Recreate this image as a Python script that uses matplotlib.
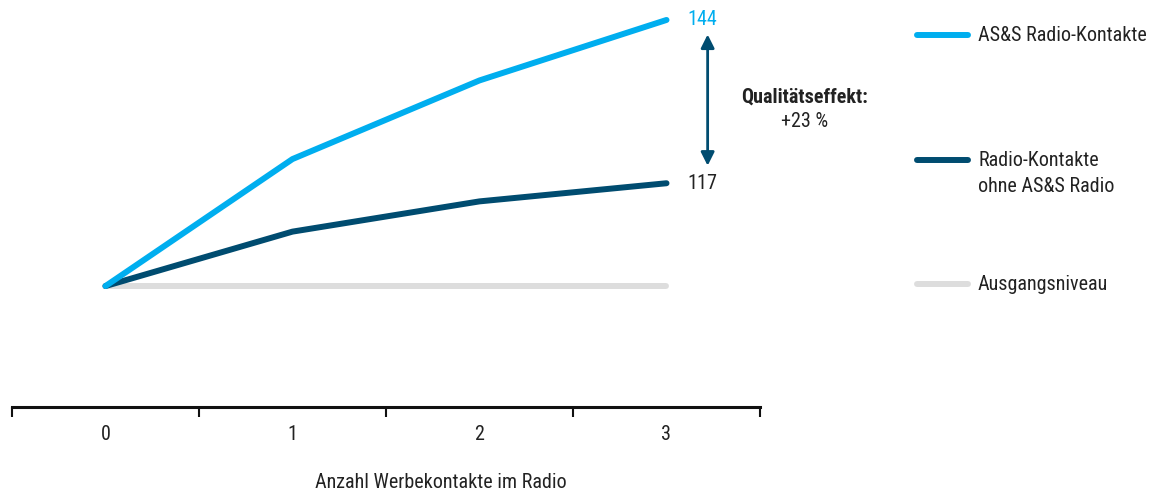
import matplotlib.pyplot as plt
from matplotlib.lines import Line2D

plt.rcParams['font.family'] = ['Roboto Condensed', 'DejaVu Sans']

kontakte = [0, 1, 2, 3]
tick_labels = ['0', '1', '2', '3']
ass_radio = [100, 121, 134, 144]
ohne_ass = [100, 109, 114, 117]
ausgang = [100, 100, 100, 100]

series_labels = ['AS&S Radio-Kontakte', 'Radio-Kontakte\nohne AS&S Radio', 'Ausgangsniveau']
colors = ['#00aeef', '#004c70', '#dddddd']
text_col = '#222222'
fs = 14.5

fig = plt.figure(figsize=(11.62, 4.94), dpi=100)
ax = fig.add_axes([12 / 1162, 87 / 494, 748 / 1162, 407 / 494])

ax.plot(kontakte, ausgang, color=colors[2], lw=4.3, solid_capstyle='round', zorder=1)
ax.plot(kontakte, ohne_ass, color=colors[1], lw=4.3, solid_capstyle='round', zorder=2)
ax.plot(kontakte, ass_radio, color=colors[0], lw=4.3, solid_capstyle='round', zorder=3)

ax.set_xlim(-0.5, 3.5)
ax.set_ylim(80, 147.3)
for s in ['top', 'right', 'left']:
    ax.spines[s].set_visible(False)
ax.spines['bottom'].set_linewidth(2.2)
ax.spines['bottom'].set_color('#111111')
ax.set_yticks([])
ax.set_xticks(kontakte)
ax.set_xticklabels(tick_labels, fontsize=fs, color=text_col)
ax.tick_params(axis='x', which='major', length=0, pad=13)
ax.set_xticks([k - 0.5 for k in kontakte] + [3.5], minor=True)
ax.tick_params(axis='x', which='minor', length=7, width=1.5, color='#111111', direction='out')

# end labels
ax.annotate(str(ass_radio[-1]), (kontakte[-1], ass_radio[-1]), xytext=(15, 0), textcoords='offset points',
            va='center', ha='left', fontsize=fs, color=colors[0])
ax.annotate(str(ohne_ass[-1]), (kontakte[-1], ohne_ass[-1]), xytext=(15, 0), textcoords='offset points',
            va='center', ha='left', fontsize=fs, color=text_col)

# double arrow
ax.annotate('', xy=(3.22, ass_radio[-1] - 2.4), xytext=(3.22, ohne_ass[-1] + 2.9),
            arrowprops=dict(arrowstyle='<|-|>', color=colors[1], lw=2, mutation_scale=20,
                            shrinkA=0, shrinkB=0))
fig.text(805 / 1162, 1 - 97 / 494, 'Qualitätseffekt:', ha='center', va='center',
         fontsize=fs, fontweight='bold', color=text_col)
fig.text(805 / 1162, 1 - 121 / 494, '+23 %', ha='center', va='center', fontsize=fs, color=text_col)

fig.text(441 / 1162, 1 - 482 / 494, 'Anzahl Werbekontakte im Radio', ha='center', va='center',
         fontsize=fs, color=text_col)

# legend
leg_y = [35, 160, 284]
for lab, col, y in zip(series_labels, colors, leg_y):
    fig.add_artist(Line2D([917 / 1162, 968 / 1162], [1 - y / 494, 1 - y / 494], color=col, lw=4.3,
                          solid_capstyle='round'))
    fig.text(978 / 1162, 1 - (y - 9) / 494, lab, ha='left', va='top', fontsize=fs, color=text_col,
             linespacing=1.45)

fig.savefig('out.png', dpi=100)
